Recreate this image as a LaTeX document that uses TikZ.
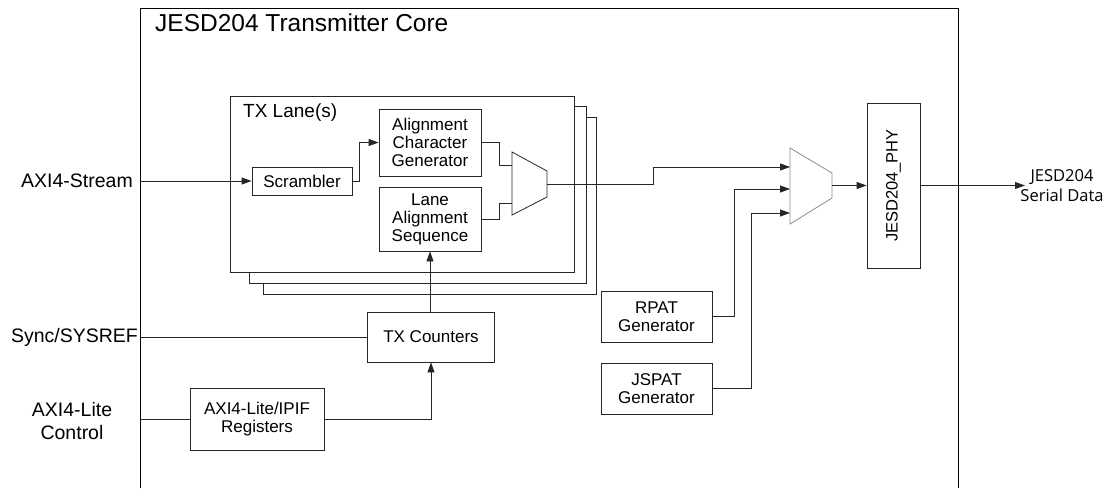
\documentclass[tikz,border=0pt]{standalone}
\usepackage{fontspec}
\setmainfont{Liberation Sans}
\newfontfamily\osans{Open Sans}
\usetikzlibrary{arrows.meta,calc}
\tikzset{
  wire/.style={line width=0.8pt, draw=black!85},
  arr/.style={wire, -{Triangle[length=10pt,width=7pt]}},
  blk/.style={draw=black!85, line width=0.8pt, fill=white, inner sep=0pt, align=center,
              font=\fontsize{17}{18}\selectfont},
  lanebox/.style={draw=black!85, line width=0.8pt, fill=white},
  sidelbl/.style={inner sep=0pt, align=center, font=\fontsize{19.5}{23}\selectfont},
}
\begin{document}
\begin{tikzpicture}[x=1pt,y=-1pt]
\useasboundingbox (0,0) rectangle (1107,488);
% outer core
\draw[line width=0.9pt] (140,488) -- (140,8) -- (958,8) -- (958,488);
\node[anchor=base west, inner sep=0pt, font=\fontsize{24.5}{26}\selectfont] (title) at (155,31) {JESD204 Transmitter Core};
% lane stack
\draw[lanebox] (263,117) rectangle (596,294);
\draw[lanebox] (249,106) rectangle (586,283);
\draw[lanebox] (230,96) rectangle (574,272);
\node[anchor=base west, inner sep=0pt, font=\fontsize{19}{20}\selectfont] (lanelbl) at (243,117) {TX Lane(s)};
% blocks
\node[blk, minimum width=100pt, minimum height=28pt] (scr) at (302,181) {Scrambler};
\node[blk, minimum width=102pt, minimum height=67pt] (acg) at (430,142.5) {Alignment\\Character\\Generator};
\node[blk, minimum width=102pt, minimum height=64pt] (las) at (430,219) {Lane\\Alignment\\Sequence};
\node[blk, minimum width=127pt, minimum height=50pt] (txc) at (431,337) {TX Counters};
\node[blk, minimum width=134pt, minimum height=62pt] (reg) at (257,419) {AXI4-Lite/IPIF\\Registers};
\node[blk, minimum width=111pt, minimum height=51pt] (rpat) at (656.5,316.5) {RPAT\\Generator};
\node[blk, minimum width=111pt, minimum height=51pt] (jspat) at (656.5,388.5) {JSPAT\\Generator};
\node[blk, minimum width=53pt, minimum height=165pt] (phy) at (893.5,185.5) {};
\node[rotate=90, inner sep=0pt, font=\fontsize{16.5}{18}\selectfont] (phylbl) at (phy.center) {JESD204\_PHY};
% mux 1
\draw[line width=0.8pt, draw=black!85, fill=white] (512,152) -- (547,171) -- (547,197) -- (512,215) -- cycle;
\coordinate (m1a) at (512,165);
\coordinate (m1b) at (512,203);
\coordinate (m1o) at (547,184);
% mux 2
\draw[line width=0.8pt, draw=black!45, fill=white] (790,148) -- (832,173) -- (832,198) -- (790,224) -- cycle;
\coordinate (m2a) at (790,167);
\coordinate (m2b) at (790,189);
\coordinate (m2c) at (790,213);
\coordinate (m2o) at (832,185.5);
% side labels
\node[sidelbl, anchor=east] (axis) at (133,181) {AXI4-Stream};
\node[sidelbl, anchor=east] (sync) at (138,337) {Sync/SYSREF};
\node[sidelbl] (ctrl) at (72,421) {AXI4-Lite\\Control};
\node[inner sep=0pt, align=center, font=\osans\fontsize{16.5}{20}\selectfont] (serial) at (1062,186) {JESD204\\Serial Data};
\coordinate (inS) at (140,181);
\coordinate (inY) at (140,337);
\coordinate (inL) at (140,419);
\coordinate (outS) at (1025,185.5);
% connectors
\draw[arr] (inS) -- (scr.west);
\draw[arr] (scr.east) -- ++(7,0) |- (acg.west);
\draw[wire] (acg.east) -- ++(18,0) |- (m1a);
\draw[wire] (las.east) -- ++(18,0) |- (m1b);
\draw[arr] (m1o) -- ++(106,0) |- (m2a);
\draw[arr] (rpat.east) -- ++(22,0) |- (m2b);
\draw[arr] (jspat.east) -- ++(39,0) |- (m2c);
\draw[arr] (m2o) -- (phy.west |- m2o);
\draw[arr] (phy.east |- m2o) -- (outS);
\draw[wire] (inY) -- (txc.west);
\draw[arr] (txc.north -| 430,0) -- (las.south);
\draw[wire] (inL) -- (reg.west);
\draw[arr] (reg.east) -| (txc.south);
\end{tikzpicture}
\end{document}
